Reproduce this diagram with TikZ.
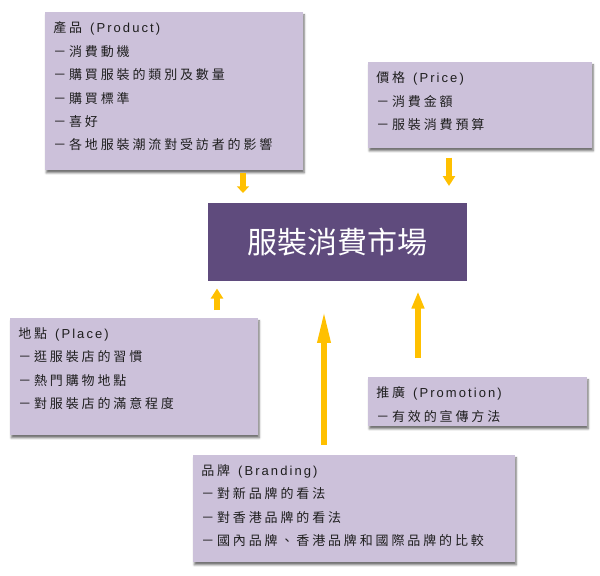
\documentclass[tikz,border=0pt]{standalone}
\usepackage{fontspec}
\setmainfont{Noto Sans CJK TC}[LetterSpace=22]
\newfontfamily\enfont{Liberation Sans}[LetterSpace=16]
\newfontfamily\titlefont{Noto Sans CJK TC}
\usetikzlibrary{arrows.meta,shadows.blur}
\definecolor{boxfill}{HTML}{CCC1DA}
\definecolor{marketfill}{HTML}{5F4B7D}
\definecolor{arrowgold}{HTML}{FFC000}
\definecolor{textgrey}{HTML}{1E1E1E}
\newcommand{\boxtext}[3]{\parbox[t][#2][t]{#1}{#3}}
\newcommand{\heading}[2]{#1\hspace{6pt}{\enfont (#2)}}

\begin{document}
\begin{tikzpicture}[x=0.75pt,y=-0.75pt,
	factor/.style={anchor=north west,fill=boxfill,inner xsep=6pt,inner ysep=7pt,text=textgrey,
		font=\fontsize{9.75pt}{17.6pt}\selectfont,
		blur shadow={shadow xshift=0.75pt,shadow yshift=-2pt,shadow blur radius=1.5pt,shadow opacity=55}},
	flow/.style={draw=arrowgold,line width=4.5pt,-{Triangle[width=9pt,length=#1]}}]
		\useasboundingbox (0,0) rectangle (600,575);

		\node[anchor=north west,fill=marketfill,text=white,minimum width=194.25pt,minimum height=58.5pt,
			font=\titlefont\fontsize{22.5pt}{27pt}\selectfont] (market) at (208,203) {服裝消費市場};

		\node[factor] (product) at (45,12) {\boxtext{181.5pt}{104.5pt}{\heading{產品}{Product}\\－消費動機\\－購買服裝的類別及數量\\－購買標準\\－喜好\\－各地服裝潮流對受訪者的影響}};
		\node[factor] (price) at (368,62) {\boxtext{156pt}{50.5pt}{\heading{價格}{Price}\\－消費金額\\－服裝消費預算}};
		\node[factor] (place) at (10,318) {\boxtext{174pt}{73.75pt}{\heading{地點}{Place}\\－逛服裝店的習慣\\－熱門購物地點\\－對服裝店的滿意程度}};
		\node[factor] (promotion) at (368,377) {\boxtext{152.25pt}{22.75pt}{\heading{推廣}{Promotion}\\－有效的宣傳方法}};
		\node[factor] (branding) at (193,455) {\boxtext{229.5pt}{66.25pt}{\heading{品牌}{Branding}\\－對新品牌的看法\\－對香港品牌的看法\\－國內品牌、香港品牌和國際品牌的比較}};

		\coordinate (productx) at (243,0);
		\coordinate (pricex) at (449,0);
		\coordinate (placex) at (217,0);
		\coordinate (brandingx) at (324,0);
		\coordinate (promotionx) at (418,0);

		\draw[flow=5pt,shorten <=1.5pt,shorten >=7.5pt] (product.south -| productx) -- (market.north -| productx);
		\draw[flow=7.5pt,shorten <=6.75pt,shorten >=12.75pt] (price.south -| pricex) -- (market.north -| pricex);
		\draw[flow=7.5pt,shorten <=6pt,shorten >=5.25pt] (place.north -| placex) -- (market.south -| placex);
		\draw[flow=25pt,shorten <=7.5pt,shorten >=21pt] (branding.north -| brandingx) -- (market.south -| brandingx);
		\draw[flow=12.75pt,shorten <=14.25pt,shorten >=7.5pt] (promotion.north -| promotionx) -- (market.south -| promotionx);

	\end{tikzpicture}
\end{document}
